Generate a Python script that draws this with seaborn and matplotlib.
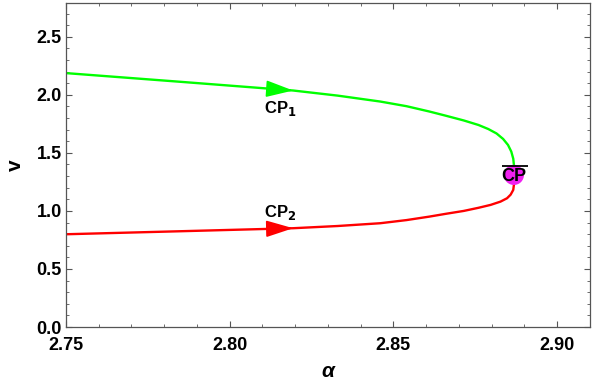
import numpy as np
import pandas as pd
import matplotlib
matplotlib.use("Agg")
import matplotlib.pyplot as plt
from matplotlib.ticker import MultipleLocator
import seaborn as sns

# branches (alpha, v)
upper_alpha = [2.750, 2.785, 2.8194, 2.833, 2.846, 2.854, 2.861, 2.866, 2.8715, 2.876,
               2.879, 2.8815, 2.8835, 2.885, 2.8860, 2.8866, 2.8868, 2.8868]
upper_v = [2.187, 2.112, 2.037, 1.993, 1.942, 1.902, 1.856, 1.820, 1.779, 1.740,
           1.705, 1.667, 1.620, 1.568, 1.511, 1.450, 1.397, 1.31]
lower_alpha = [2.750, 2.785, 2.8194, 2.833, 2.846, 2.854, 2.861, 2.866, 2.8715, 2.876,
               2.8797, 2.8827, 2.8847, 2.8858, 2.8866, 2.8868, 2.8868]
lower_v = [0.799, 0.825, 0.851, 0.870, 0.894, 0.921, 0.951, 0.975, 1.000, 1.027,
           1.052, 1.080, 1.109, 1.140, 1.181, 1.224, 1.31]

cp_alpha, cp_v = 2.8868, 1.31
arrow_alpha = 2.8194
arrow_upper_v, arrow_lower_v = 2.037, 0.851

sns.set_theme(style="ticks")
plt.rcParams["font.family"] = ["Liberation Sans", "DejaVu Sans"]
plt.rcParams["font.weight"] = "bold"
plt.rcParams["mathtext.default"] = "bf"
plt.rcParams["text.color"] = "black"
plt.rcParams["axes.labelcolor"] = "black"

df = pd.concat([
    pd.DataFrame({"alpha": upper_alpha, "v": upper_v, "branch": "CP1"}),
    pd.DataFrame({"alpha": lower_alpha, "v": lower_v, "branch": "CP2"}),
])

fig = plt.figure(figsize=(6.05, 3.87), dpi=100)
ax = fig.add_axes([0.109, 0.155, 0.866, 0.837])

sns.lineplot(data=df, x="alpha", y="v", hue="branch", sort=False, estimator=None,
             palette={"CP1": "#00ff00", "CP2": "#ff0000"}, linewidth=1.7,
             legend=False, ax=ax)

# direction arrows (head only, sitting on the curve)
for v0, dv, col in [(arrow_upper_v, 0.012, "#00ff00"), (arrow_lower_v, -0.004, "#ff0000")]:
    ax.annotate("", xy=(arrow_alpha, v0), xytext=(arrow_alpha - 0.0064, v0 + dv),
                arrowprops=dict(arrowstyle="-|>,head_length=1.3,head_width=0.4", color=col,
                                lw=1.2, mutation_scale=13, shrinkA=0, shrinkB=0))

ax.text(2.8154, 1.885, r"CP$_{1}$", ha="center", va="center", fontsize=12,
        fontweight="bold", color="black")
ax.text(2.8154, 0.985, r"CP$_{2}$", ha="center", va="center", fontsize=12,
        fontweight="bold", color="black")

# cusp point
ax.scatter([cp_alpha], [cp_v], s=210, color="#f020f0", zorder=4, edgecolors="none")
ax.text(cp_alpha, cp_v - 0.01, "CP", ha="center", va="center", fontsize=13,
        fontweight="bold", color="black", zorder=5)
ax.hlines(cp_v + 0.075, cp_alpha - 0.0035, cp_alpha + 0.0043, color="black", lw=1.3, zorder=5)

ax.set_xlim(2.75, 2.91)
ax.set_ylim(0.0, 2.79)
ax.xaxis.set_minor_locator(MultipleLocator(0.01))
ax.yaxis.set_minor_locator(MultipleLocator(0.1))
ax.set_xticks([2.75, 2.80, 2.85, 2.90])
ax.set_xticklabels(["2.75", "2.80", "2.85", "2.90"])
ax.set_yticks([0.0, 0.5, 1.0, 1.5, 2.0, 2.5])
ax.set_yticklabels(["0.0", "0.5", "1.0", "1.5", "2.0", "2.5"])
ax.tick_params(which="both", direction="in", top=True, right=True, colors="#555555",
               labelcolor="black", labelsize=13)
ax.tick_params(axis="x", pad=7)
ax.tick_params(axis="y", pad=3)
ax.tick_params(which="major", length=4, width=0.8)
ax.tick_params(which="minor", length=2, width=0.6)
for lab in ax.get_xticklabels() + ax.get_yticklabels():
    lab.set_fontweight("bold")
for s in ax.spines.values():
    s.set_color("#555555")
    s.set_linewidth(0.9)

ax.set_xlabel("α", fontsize=15, fontweight="bold", style="italic", labelpad=6)
ax.set_ylabel("v", fontsize=15, fontweight="bold", labelpad=8)

fig.savefig("out.png", dpi=100)
